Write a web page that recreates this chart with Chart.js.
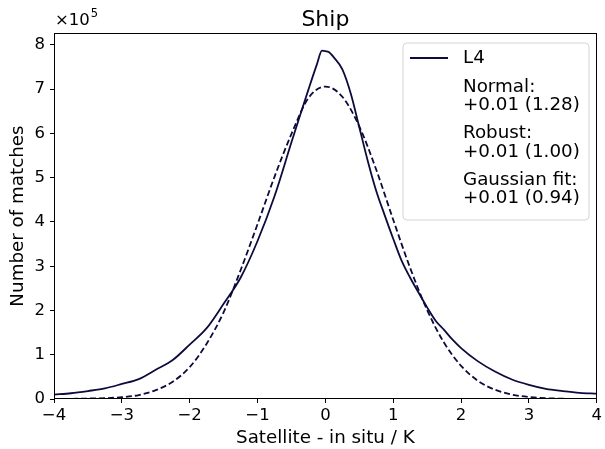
<!DOCTYPE html>
<html>
<head>
<meta charset="utf-8">
<script src="https://cdn.jsdelivr.net/npm/chart.js@4/dist/chart.umd.min.js"></script>
<style>
html,body{margin:0;padding:0;background:#fff;}
#wrap{width:605px;height:449px;position:relative;}
</style>
</head>
<body>
<div id="wrap"><canvas id="c" width="605" height="449"></canvas></div>
<script>
// ---- data (matches, in units of 1e5) ----
const titleText = "Ship";
const xLabel = "Satellite - in situ / K";
const yLabel = "Number of matches";
const seriesLabel = "L4";
const legendExtra = [["Normal:", "+0.01 (1.28)"], ["Robust:", "+0.01 (1.00)"], ["Gaussian fit:", "+0.01 (0.94)"]];
const xTicks = [-4, -3, -2, -1, 0, 1, 2, 3, 4];
const yTicks = [0, 1, 2, 3, 4, 5, 6, 7, 8];

const histX = [-4.0, -3.75, -3.5, -3.25, -3.0, -2.75, -2.5, -2.25, -2.0, -1.75, -1.5, -1.25, -1.0, -0.75, -0.5, -0.375, -0.25, -0.125, -0.05, 0.0, 0.05, 0.125, 0.25, 0.375, 0.5, 0.625, 0.75, 0.875, 1.0, 1.125, 1.25, 1.375, 1.5, 1.625, 1.75, 1.875, 2.0, 2.25, 2.5, 2.75, 3.0, 3.25, 3.5, 3.75, 4.0];
const histY = [0.10, 0.13, 0.18, 0.24, 0.34, 0.45, 0.66, 0.88, 1.23, 1.60, 2.15, 2.74, 3.57, 4.58, 5.80, 6.40, 6.99, 7.56, 7.87, 7.86, 7.84, 7.72, 7.45, 6.90, 6.14, 5.38, 4.70, 4.15, 3.62, 3.12, 2.74, 2.40, 2.07, 1.77, 1.56, 1.34, 1.15, 0.85, 0.62, 0.44, 0.32, 0.23, 0.18, 0.14, 0.12];

const fitX = [-4.0, -3.5, -3.0, -2.75, -2.5, -2.25, -2.0, -1.75, -1.5, -1.25, -1.0, -0.75, -0.5, -0.25, 0.0, 0.25, 0.5, 0.75, 1.0, 1.25, 1.5, 1.75, 2.0, 2.25, 2.5, 2.75, 3.0, 3.5, 4.0];
const fitY = [0.00, 0.01, 0.04, 0.09, 0.20, 0.39, 0.72, 1.25, 1.96, 2.91, 3.95, 5.02, 5.99, 6.80, 7.06, 6.83, 6.16, 5.18, 4.05, 2.96, 2.01, 1.27, 0.75, 0.41, 0.21, 0.10, 0.045, 0.006, 0.00];

const lineColor = '#0d0b3c';
const FONT = "'DejaVu Sans', sans-serif";
const TEXT_PX = 18.3;
const TICK_PX = 16.5;

function pts(xs, ys){ return xs.map((x,i)=>({x:x, y:ys[i]})); }

const deco = {
  id: 'deco',
  afterDraw(chart){
    const ctx = chart.ctx, a = chart.chartArea;
    ctx.save();
    // frame
    ctx.strokeStyle = '#000'; ctx.lineWidth = 1;
    ctx.strokeRect(Math.round(a.left)+0.5, Math.round(a.top)+0.5, Math.round(a.right-a.left)-1, Math.round(a.bottom-a.top)-1);
    // title
    ctx.fillStyle = '#000';
    ctx.font = "22px " + FONT;
    ctx.textAlign = 'center'; ctx.textBaseline = 'alphabetic';
    ctx.fillText(titleText, (a.left+a.right)/2, 26);
    // offset text x10^5
    ctx.textAlign = 'left';
    ctx.font = TICK_PX + "px " + FONT;
    ctx.fillText("\u00d710", a.left+1, 25);
    const w = ctx.measureText("\u00d710").width;
    ctx.font = "11.5px " + FONT;
    ctx.fillText("5", a.left+1+w+1, 17);
    // legend
    const bx = 403, by = 43, bw = 186, bh = 177, r = 4;
    ctx.beginPath();
    ctx.moveTo(bx+r, by); ctx.lineTo(bx+bw-r, by); ctx.quadraticCurveTo(bx+bw, by, bx+bw, by+r);
    ctx.lineTo(bx+bw, by+bh-r); ctx.quadraticCurveTo(bx+bw, by+bh, bx+bw-r, by+bh);
    ctx.lineTo(bx+r, by+bh); ctx.quadraticCurveTo(bx, by+bh, bx, by+bh-r);
    ctx.lineTo(bx, by+r); ctx.quadraticCurveTo(bx, by, bx+r, by); ctx.closePath();
    ctx.fillStyle = 'rgba(255,255,255,0.8)'; ctx.fill();
    ctx.strokeStyle = '#d5d5d5'; ctx.lineWidth = 1; ctx.stroke();
    ctx.strokeStyle = lineColor; ctx.lineWidth = 1.8;
    ctx.beginPath(); ctx.moveTo(410, 58); ctx.lineTo(448, 58); ctx.stroke();
    ctx.fillStyle = '#000'; ctx.font = TEXT_PX + "px " + FONT; ctx.textBaseline = 'middle';
    ctx.fillText(chart.data.datasets[0].label, 463, 58);
    let y = 87;
    legendExtra.forEach(e => {
      ctx.fillText(e[0], 463, y);
      ctx.fillText(e[1], 463, y+18.5);
      y += 46.5;
    });
    ctx.restore();
  }
};

new Chart(document.getElementById('c'), {
  type: 'line',
  data: {
    datasets: [
      { label: seriesLabel, data: pts(histX, histY), borderColor: lineColor, borderWidth: 1.8, pointRadius: 0, fill: false, cubicInterpolationMode: 'monotone' },
      { label: 'fit', data: pts(fitX, fitY), borderColor: lineColor, borderWidth: 1.8, borderDash: [6, 3], pointRadius: 0, fill: false, cubicInterpolationMode: 'monotone' }
    ]
  },
  options: {
    responsive: false, animation: false,
    layout: { padding: { left: 0, right: 7, top: 33, bottom: 0 } },
    plugins: { legend: { display: false }, tooltip: { enabled: false }, title: { display: false } },
    scales: {
      x: {
        type: 'linear', min: -4, max: 4,
        afterFit: s => { s.height = 50; },
        afterBuildTicks: s => { s.ticks = xTicks.map(v => ({value: v})); },
        ticks: { color: '#000', font: { family: FONT, size: TICK_PX }, padding: 3, maxRotation: 0,
                 callback: v => v < 0 ? '\u2212' + Math.abs(v) : String(v) },
        grid: { drawOnChartArea: false, drawTicks: true, tickLength: 4, color: '#000' },
        border: { display: false },
        title: { display: true, text: xLabel, color: '#000', font: { family: FONT, size: TEXT_PX }, padding: { top: 0, bottom: 0 } }
      },
      y: {
        type: 'linear', min: 0, max: 8.27,
        afterFit: s => { s.width = 54; },
        afterBuildTicks: s => { s.ticks = yTicks.map(v => ({value: v})); },
        ticks: { color: '#000', font: { family: FONT, size: TICK_PX }, padding: 5 },
        grid: { drawOnChartArea: false, drawTicks: true, tickLength: 4, color: '#000' },
        border: { display: false },
        title: { display: true, text: yLabel, color: '#000', font: { family: FONT, size: TEXT_PX }, padding: { top: 7, bottom: 0 } }
      }
    }
  },
  plugins: [deco]
});
</script>
</body>
</html>
